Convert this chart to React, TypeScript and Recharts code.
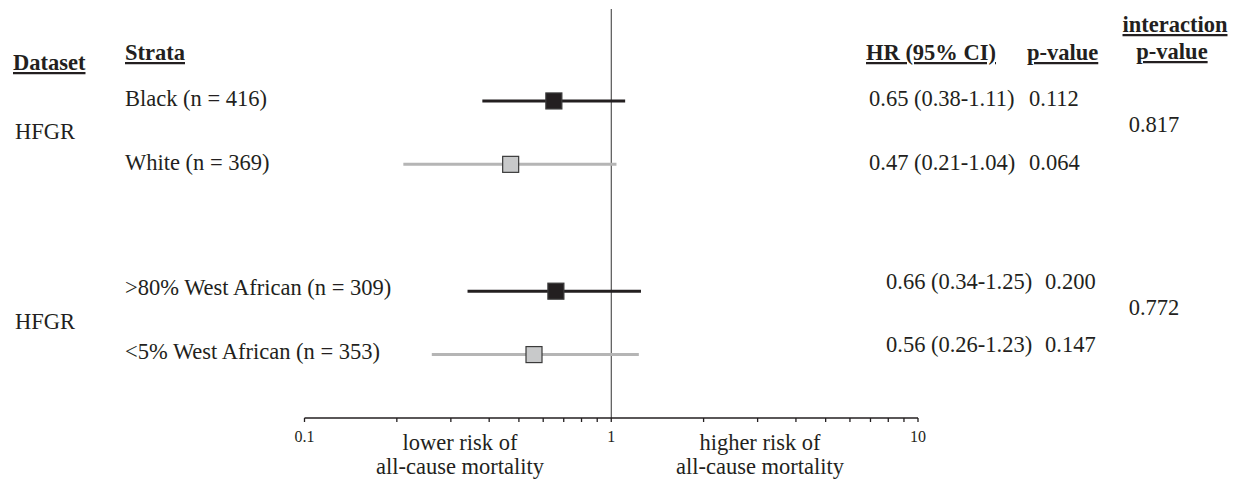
import React from 'react';
import { ScatterChart, Scatter, XAxis, YAxis, ErrorBar, ReferenceLine } from 'recharts';

// rows of the forest plot
const STRATA = ['Black (n = 416)', 'White (n = 369)', '>80% West African (n = 309)', '<5% West African (n = 353)'];
const HR = [0.65, 0.47, 0.66, 0.56];
const CI_LOW = [0.38, 0.21, 0.34, 0.26];
const CI_HIGH = [1.11, 1.04, 1.25, 1.23];
const HR_TEXT = ['0.65 (0.38-1.11)', '0.47 (0.21-1.04)', '0.66 (0.34-1.25)', '0.56 (0.26-1.23)'];
const P_VALUES = ['0.112', '0.064', '0.200', '0.147'];
const ROW_SLOT = [0, 1, 3, 4];
const DARK_ROWS = [0, 2];
const LIGHT_ROWS = [1, 3];

const DATASETS = ['HFGR', 'HFGR'];
const INTERACTION_P = ['0.817', '0.772'];

const X_TICKS = [0.1, 0.2, 0.3, 0.4, 0.5, 0.6, 0.7, 0.8, 0.9, 1, 2, 3, 4, 5, 6, 7, 8, 9, 10];
const TICK_LABELS = ['0.1', '1', '10'];

const FONT = '"Liberation Serif", "Times New Roman", serif';
const INK = '#231f20';

const toPoint = (i: number) => ({
    hr: HR[i],
    slot: ROW_SLOT[i],
    err: [HR[i] - CI_LOW[i], CI_HIGH[i] - HR[i]],
});

const darkData = DARK_ROWS.map(toPoint);
const lightData = LIGHT_ROWS.map(toPoint);

const Square = (fill: string) => (props: any) => {
    const { cx, cy } = props;
    return <rect x={cx - 8} y={cy - 8} width={16} height={16} fill={fill} stroke="#3a3a3a" strokeWidth={1.2} />;
};

// text layout (baselines)
const STRATA_Y = [106, 170, 295, 359];
const RIGHT_Y = [106, 170, 289, 352];
const DATASET_Y = [139, 329];
const INTERACTION_Y = [132, 315];
const RIGHT_X = [869, 869, 886, 886];
const PVAL_X = [1029, 1029, 1045, 1045];

const T = (props: any) => (
    <text fontFamily={FONT} fontSize={22.5} fill={INK} {...props} />
);

const App: React.FC = () => {
    return (
        <div style={{ position: 'absolute', left: 0, top: 0 }}>
            <ScatterChart width={1234} height={484} margin={{ top: 9, right: 316, bottom: 36, left: 304.5 }}>
                <XAxis
                    type="number"
                    dataKey="hr"
                    scale="log"
                    domain={[0.1, 10]}
                    ticks={X_TICKS}
                    allowDataOverflow
                    height={30}
                    tickSize={4}
                    tickMargin={9}
                    stroke={INK}
                    strokeWidth={1.3}
                    tickFormatter={(v: number) => (TICK_LABELS.includes(String(v)) ? String(v) : '')}
                    tick={{ fontFamily: FONT, fontSize: 16, fill: INK }}
                />
                <YAxis type="number" dataKey="slot" domain={[-1.45, 5]} reversed hide width={0} />
                <ReferenceLine x={1} stroke="#333" strokeWidth={1} />
                <Scatter data={darkData} shape={Square('#231f20')} isAnimationActive={false}>
                    <ErrorBar dataKey="err" direction="x" width={0} stroke="#231f20" strokeWidth={3} isAnimationActive={false} />
                </Scatter>
                <Scatter data={lightData} shape={Square('#c8c9ca')} isAnimationActive={false}>
                    <ErrorBar dataKey="err" direction="x" width={0} stroke="#b5b5b5" strokeWidth={3} isAnimationActive={false} />
                </Scatter>

                {/* headers */}
                <T x={13} y={70} fontWeight="bold" textDecoration="underline">Dataset</T>
                <T x={125} y={60} fontWeight="bold" textDecoration="underline">Strata</T>
                <T x={866} y={60} fontWeight="bold" textDecoration="underline">HR (95% CI)</T>
                <T x={1027} y={60} fontWeight="bold" textDecoration="underline">p-value</T>
                <T x={1175} y={32} fontWeight="bold" textDecoration="underline" textAnchor="middle">interaction</T>
                <T x={1172} y={59} fontWeight="bold" textDecoration="underline" textAnchor="middle">p-value</T>

                {DATASETS.map((d, i) => (
                    <T key={`ds-${i}`} x={15} y={DATASET_Y[i]}>{d}</T>
                ))}
                {STRATA.map((s, i) => (
                    <T key={`st-${i}`} x={125} y={STRATA_Y[i]}>{s}</T>
                ))}
                {HR_TEXT.map((s, i) => (
                    <T key={`hr-${i}`} x={RIGHT_X[i]} y={RIGHT_Y[i]}>{s}</T>
                ))}
                {P_VALUES.map((s, i) => (
                    <T key={`p-${i}`} x={PVAL_X[i]} y={RIGHT_Y[i]}>{s}</T>
                ))}
                {INTERACTION_P.map((s, i) => (
                    <T key={`ip-${i}`} x={1154} y={INTERACTION_Y[i]} textAnchor="middle">{s}</T>
                ))}

                <T x={460} y={450} textAnchor="middle">lower risk of</T>
                <T x={460} y={474} textAnchor="middle">all-cause mortality</T>
                <T x={760} y={450} textAnchor="middle">higher risk of</T>
                <T x={760} y={474} textAnchor="middle">all-cause mortality</T>
            </ScatterChart>
        </div>
    );
};

export default App;
